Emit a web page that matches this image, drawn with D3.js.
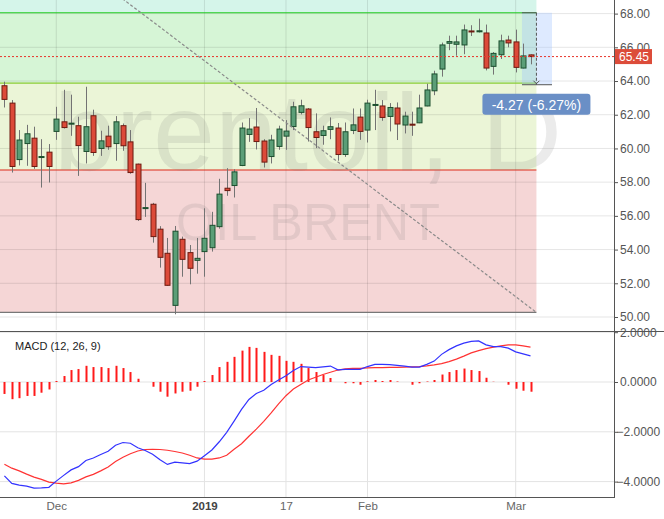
<!DOCTYPE html>
<html><head><meta charset="utf-8">
<script src="https://cdn.jsdelivr.net/npm/d3@7"></script>
<style>body{margin:0;background:#fff}svg{display:block;font-family:"Liberation Sans",Arial,sans-serif}</style>
</head><body><svg id="c" width="664" height="519"></svg>
<script>
// ---------- data ----------
const dates=["2018-11-22","2018-11-23","2018-11-26","2018-11-27","2018-11-28","2018-11-29","2018-11-30",
"2018-12-03","2018-12-04","2018-12-05","2018-12-06","2018-12-07","2018-12-10","2018-12-11","2018-12-12","2018-12-13","2018-12-14",
"2018-12-17","2018-12-18","2018-12-19","2018-12-20","2018-12-21","2018-12-24","2018-12-26","2018-12-27","2018-12-28","2018-12-31",
"2019-01-02","2019-01-03","2019-01-04","2019-01-07","2019-01-08","2019-01-09","2019-01-10","2019-01-11","2019-01-14","2019-01-15",
"2019-01-16","2019-01-17","2019-01-18","2019-01-21","2019-01-22","2019-01-23","2019-01-24","2019-01-25","2019-01-28","2019-01-29",
"2019-01-30","2019-01-31","2019-02-01","2019-02-04","2019-02-05","2019-02-06","2019-02-07","2019-02-08","2019-02-11","2019-02-12",
"2019-02-13","2019-02-14","2019-02-15","2019-02-18","2019-02-19","2019-02-20","2019-02-21","2019-02-22","2019-02-25","2019-02-26",
"2019-02-27","2019-02-28","2019-03-01","2019-03-04","2019-03-05"];
const opens=[63.72,62.69,59.34,60.29,60.61,59.48,59.78,61.01,61.58,61.46,61.35,59.82,61.94,60.00,60.73,60.29,61.35,60.39,59.07,56.45,
56.69,55.21,53.78,50.69,54.61,53.82,53.36,53.88,54.11,55.36,57.64,57.80,58.99,60.83,61.27,60.44,59.52,60.12,60.73,61.30,
62.14,62.34,60.99,60.77,61.13,61.21,59.64,61.07,61.86,61.09,62.57,62.52,61.90,62.40,61.39,61.44,61.52,62.52,63.42,64.71,
66.24,66.18,66.14,66.97,66.92,66.85,64.87,65.56,66.43,66.32,64.77,65.55];
const highs=[63.96,62.87,61.09,61.40,61.29,60.55,60.26,62.47,63.48,63.19,61.88,63.66,62.30,61.05,61.35,61.92,61.48,61.09,59.10,57.96,
56.77,55.39,54.69,55.40,54.77,54.27,54.69,56.45,56.24,58.20,58.83,58.77,61.54,61.80,62.40,60.55,60.81,61.35,61.68,62.77,
62.89,62.40,62.08,61.35,61.84,61.51,61.54,62.37,62.37,62.89,63.48,62.87,62.69,62.73,62.18,62.18,63.19,63.84,64.61,66.28,
66.69,66.69,67.35,67.31,67.70,67.35,65.72,66.75,66.69,67.05,66.22,65.58];
const lows=[62.43,58.57,58.99,58.97,58.79,57.68,57.98,60.51,61.18,60.75,58.37,59.11,59.56,59.56,59.92,59.27,59.86,58.50,55.70,55.94,
54.41,52.93,51.85,50.16,52.39,51.94,52.57,52.39,53.88,55.24,57.19,57.09,58.95,60.39,59.94,58.87,59.11,59.92,59.92,61.09,
62.02,60.41,60.02,60.22,60.55,59.27,59.50,60.85,60.51,60.35,61.09,61.64,61.01,60.50,60.89,60.75,61.50,62.50,63.16,64.26,
65.83,65.50,65.59,66.67,66.88,64.63,64.38,65.31,66.00,64.51,64.75,64.99];
const closes=[62.91,58.93,60.50,60.87,58.93,59.52,58.93,61.74,61.24,61.50,60.17,61.29,59.76,60.45,60.10,61.58,60.16,58.57,55.78,56.49,
54.77,53.54,51.88,55.09,53.42,52.89,53.48,54.67,55.44,57.29,57.50,58.61,61.21,61.15,60.41,59.19,60.50,61.15,61.03,62.47,
62.53,61.24,60.65,61.05,61.29,59.64,60.99,61.40,61.01,62.69,62.61,61.84,62.43,61.45,61.92,61.40,62.40,63.47,64.42,66.14,
66.34,66.32,67.03,66.93,66.98,64.77,65.64,66.38,66.26,64.81,65.49,65.45];
const macdLine=[-3.77,-4.07,-4.14,-4.18,-4.26,-4.25,-4.23,-3.98,-3.75,-3.53,-3.40,-3.15,-3.05,-2.91,-2.78,-2.54,-2.43,-2.46,-2.64,-2.75,
-2.90,-3.12,-3.31,-3.22,-3.25,-3.28,-3.18,-2.96,-2.73,-2.40,-2.02,-1.57,-1.10,-0.70,-0.46,-0.33,-0.10,0.08,0.25,0.46,
0.62,0.60,0.58,0.61,0.64,0.49,0.51,0.51,0.51,0.62,0.71,0.71,0.70,0.67,0.64,0.60,0.60,0.71,0.84,1.11,
1.30,1.45,1.56,1.63,1.65,1.49,1.42,1.42,1.36,1.21,1.13,1.05];
const signalLine=[-3.30,-3.46,-3.57,-3.70,-3.82,-3.91,-4.02,-4.06,-4.09,-4.05,-3.95,-3.81,-3.71,-3.57,-3.41,-3.19,-3.02,-2.88,-2.77,-2.71,
-2.70,-2.71,-2.74,-2.79,-2.85,-2.94,-3.05,-3.10,-3.10,-3.05,-2.94,-2.70,-2.48,-2.18,-1.89,-1.58,-1.24,-0.88,-0.55,-0.28,
-0.10,0.08,0.19,0.30,0.39,0.48,0.53,0.55,0.55,0.57,0.58,0.58,0.59,0.59,0.60,0.61,0.62,0.65,0.69,0.74,
0.82,0.92,1.04,1.17,1.26,1.34,1.40,1.45,1.49,1.49,1.45,1.40];
const histogram=[-0.48,-0.69,-0.65,-0.56,-0.56,-0.43,-0.30,0.04,0.24,0.48,0.52,0.65,0.60,0.60,0.56,0.65,0.56,0.40,0.13,0.00,
-0.19,-0.39,-0.59,-0.46,-0.39,-0.35,-0.19,0.04,0.28,0.60,0.81,1.01,1.26,1.41,1.37,1.21,1.09,1.05,0.85,0.81,
0.73,0.56,0.40,0.28,0.16,0.00,-0.05,-0.05,-0.11,0.03,0.08,0.04,0.08,0.02,0.00,-0.11,-0.05,0.02,0.08,0.30,
0.40,0.48,0.54,0.48,0.44,0.17,0.01,0.00,-0.11,-0.27,-0.35,-0.39];
const priceTicks=[50,52,54,56,58,60,62,64,66,68];
const macdTicks=[2,0,-2,-4];
const dateTicks=[{d:"2018-12-03",t:"Dec"},{d:"2019-01-02",t:"2019",bold:true},{d:"2019-01-17",t:"17"},{d:"2019-02-01",t:"Feb"},{d:"2019-03-01",t:"Mar"}];
const fibLevels=[75,68.05,63.87,58.72,50.28];
const fibFills=["#d5f5ea","#d6f5d6","#ebf5d7","#f5d6d6"];
const fibLineColors=["#22cc22","#8acc33","#dd2a1a","#777777"];
const fibSpan=[-12,71.8];
const trendLine=[{i:10,p:70.86},{i:71.78,p:50.28}];
const lastPrice=65.45;
const measure={i0:69.85,i1:73.9,iMid:71.8,p0:68.05,p1:63.78,text:"-4.27 (-6.27%)"};
const macdTitle="MACD (12, 26, 9)";
const watermark1="brentoil, D", watermark2="OIL BRENT";

// ---------- scales ----------
const svg=d3.select("#c");
const plotR=614;
const x=d3.scaleLinear().domain([0,71]).range([4.4,530.5]);
const y=d3.scaleLinear().domain([50,68]).range([317,13.6]);
const ym=d3.scaleLinear().domain([-4,2]).range([481.6,332.2]);
const idx=d=>dates.indexOf(d);

const defs=svg.append("defs");
defs.append("clipPath").attr("id","cm").append("rect").attr("x",0).attr("y",0).attr("width",plotR).attr("height",330);
defs.append("clipPath").attr("id","cd").append("rect").attr("x",0).attr("y",331).attr("width",plotR).attr("height",167);

// ---------- main panel ----------
const g=svg.append("g").attr("clip-path","url(#cm)");
for(let k=0;k<4;k++){
  g.append("rect").attr("x",x(fibSpan[0])).attr("width",x(fibSpan[1])-x(fibSpan[0]))
   .attr("y",y(fibLevels[k])).attr("height",y(fibLevels[k+1])-y(fibLevels[k])).attr("fill",fibFills[k]);
}
// grid
g.selectAll(".hg").data(priceTicks).join("line").attr("x1",0).attr("x2",plotR)
 .attr("y1",d=>y(d)).attr("y2",d=>y(d)).attr("stroke","rgba(0,0,0,0.1)");
g.selectAll(".vg").data(dateTicks).join("line").attr("y1",0).attr("y2",330)
 .attr("x1",d=>x(idx(d.d))).attr("x2",d=>x(idx(d.d))).attr("stroke","rgba(0,0,0,0.1)");
// fib lines
for(let k=1;k<5;k++){
  g.append("line").attr("x1",x(fibSpan[0])).attr("x2",x(fibSpan[1])).attr("y1",y(fibLevels[k])).attr("y2",y(fibLevels[k]))
   .attr("stroke",fibLineColors[k-1]).attr("stroke-width",1.2);
}
// watermark
g.append("text").attr("x",54).attr("y",170).attr("font-size",110).attr("fill","rgba(110,110,110,0.14)")
 .attr("textLength",508).attr("lengthAdjust","spacingAndGlyphs").text(watermark1);
g.append("text").attr("x",176).attr("y",240).attr("font-size",52).attr("fill","rgba(110,110,110,0.14)")
 .attr("textLength",264).attr("lengthAdjust","spacingAndGlyphs").text(watermark2);
// measure box
g.append("rect").attr("x",x(measure.i0)).attr("width",x(measure.i1)-x(measure.i0))
 .attr("y",y(measure.p0)).attr("height",y(measure.p1)-y(measure.p0)).attr("fill","rgba(160,195,255,0.35)");
g.append("line").attr("x1",x(measure.i0)).attr("x2",x(measure.iMid)).attr("y1",y(measure.p0)).attr("y2",y(measure.p0)).attr("stroke","#555");
g.append("line").attr("x1",x(measure.i0)).attr("x2",x(measure.i1)).attr("y1",y(measure.p1)).attr("y2",y(measure.p1)).attr("stroke","#555");
g.append("line").attr("x1",x(measure.iMid)).attr("x2",x(measure.iMid)).attr("y1",y(measure.p0)).attr("y2",y(measure.p1))
 .attr("stroke","#555").attr("stroke-dasharray","3,2");
g.append("path").attr("d",`M${x(measure.iMid)-3},${y(measure.p1)-4}L${x(measure.iMid)},${y(measure.p1)-1}L${x(measure.iMid)+3},${y(measure.p1)-4}`)
 .attr("fill","none").attr("stroke","#555");
// candles
const data=dates.map((d,i)=>({i,o:opens[i],h:highs[i],l:lows[i],c:closes[i]}));
const cg=g.append("g");
cg.selectAll(".wk").data(data).join("line").attr("x1",d=>Math.round(x(d.i))+0.5).attr("x2",d=>Math.round(x(d.i))+0.5)
 .attr("y1",d=>y(d.h)).attr("y2",d=>y(d.l)).attr("stroke","#737373").attr("stroke-width",1);
cg.selectAll(".bd").data(data).join("rect")
 .attr("x",d=>Math.round(x(d.i))-2).attr("width",5)
 .attr("y",d=>y(Math.max(d.o,d.c))).attr("height",d=>Math.max(1,y(Math.min(d.o,d.c))-y(Math.max(d.o,d.c))))
 .attr("fill",d=>d.c>=d.o?"#5b9e77":"#dc4a39")
 .attr("stroke",d=>d.c>=d.o?"#1c4f2e":"#6e1a10").attr("stroke-width",1);
// trend line
g.append("line").attr("x1",x(trendLine[0].i)).attr("y1",y(trendLine[0].p)).attr("x2",x(trendLine[1].i)).attr("y2",y(trendLine[1].p))
 .attr("stroke","#8a8a8a").attr("stroke-width",1.2).attr("stroke-dasharray","3,2");
// last price line
g.append("line").attr("x1",0).attr("x2",plotR).attr("y1",y(lastPrice)).attr("y2",y(lastPrice))
 .attr("stroke","#e8322a").attr("stroke-dasharray","2,2");
// measure label
const mx=x(measure.iMid);
svg.append("rect").attr("x",mx-54).attr("y",y(measure.p1)+9).attr("width",108).attr("height",21).attr("rx",3).attr("fill","#6a8fc6");
svg.append("text").attr("x",mx).attr("y",y(measure.p1)+25).attr("text-anchor","middle").attr("font-size",14).attr("fill","#fff").text(measure.text);

// ---------- axes ----------
const axY=svg.append("g").attr("transform",`translate(${plotR},0)`)
 .call(d3.axisRight(y).tickValues(priceTicks).tickFormat(d3.format(".2f")).tickSize(4).tickPadding(2));
axY.select(".domain").remove();
axY.selectAll("line").attr("stroke","#555");
axY.selectAll("text").attr("font-size",12).attr("fill","#555").attr("font-family","Liberation Sans,Arial,sans-serif");
// price label
svg.append("rect").attr("x",plotR).attr("y",y(lastPrice)-7.5).attr("width",38).attr("height",15).attr("fill","#dc4c3a");
svg.append("text").attr("x",plotR+5).attr("y",y(lastPrice)+4.5).attr("font-size",12).attr("fill","#fff").text(d3.format(".2f")(lastPrice));

// ---------- MACD panel ----------
const m=svg.append("g").attr("clip-path","url(#cd)");
m.selectAll(".mh").data(macdTicks).join("line").attr("x1",0).attr("x2",plotR).attr("y1",d=>ym(d)).attr("y2",d=>ym(d)).attr("stroke","#e3e3e3");
m.selectAll(".mv").data(dateTicks).join("line").attr("y1",331).attr("y2",498)
 .attr("x1",d=>x(idx(d.d))).attr("x2",d=>x(idx(d.d))).attr("stroke","#e3e3e3");
m.selectAll(".hb").data(histogram.map((v,i)=>({i,v}))).join("rect")
 .attr("x",d=>Math.round(x(d.i))-0.5).attr("width",2)
 .attr("y",d=>Math.min(ym(0),ym(d.v))).attr("height",d=>Math.abs(ym(d.v)-ym(0))).attr("fill","#ff1a1a");
const ln=d3.line().x((d,i)=>x(i)).y(d=>ym(d));
m.append("path").attr("d",ln(signalLine)).attr("fill","none").attr("stroke","#ff3333").attr("stroke-width",1.2);
m.append("path").attr("d",ln(macdLine)).attr("fill","none").attr("stroke","#3333ff").attr("stroke-width",1.2);
svg.append("text").attr("x",15).attr("y",350).attr("font-size",11).attr("fill","#222").text(macdTitle);
const axM=svg.append("g").attr("transform",`translate(${plotR},0)`)
 .call(d3.axisRight(ym).tickValues(macdTicks).tickFormat(d3.format(".4f")).tickSize(4).tickPadding(2));
axM.select(".domain").remove();
axM.selectAll("line").attr("stroke","#555");
axM.selectAll("text").attr("font-size",12).attr("fill","#555").attr("font-family","Liberation Sans,Arial,sans-serif")
 .attr("dx",d=>d<0?-3.5:0);

// frame lines
svg.append("line").attr("x1",0).attr("x2",664).attr("y1",331.5).attr("y2",331.5).attr("stroke","#555");
svg.append("line").attr("x1",0).attr("x2",plotR).attr("y1",497.5).attr("y2",497.5).attr("stroke","#555");
svg.append("line").attr("x1",plotR+0.5).attr("x2",plotR+0.5).attr("y1",0).attr("y2",498).attr("stroke","#555");

// x axis labels
const axX=svg.append("g").attr("transform","translate(0,498)")
 .call(d3.axisBottom(x).tickValues(dateTicks.map(d=>idx(d.d))).tickFormat((d,i)=>dateTicks[i].t).tickSize(0).tickPadding(4));
axX.select(".domain").remove();
axX.selectAll("text").attr("font-size",11.5).attr("font-family","Liberation Sans,Arial,sans-serif")
 .attr("fill",(d,i)=>dateTicks[i].bold?"#444":"#666").attr("font-weight",(d,i)=>dateTicks[i].bold?"bold":"normal");
</script></body></html>
